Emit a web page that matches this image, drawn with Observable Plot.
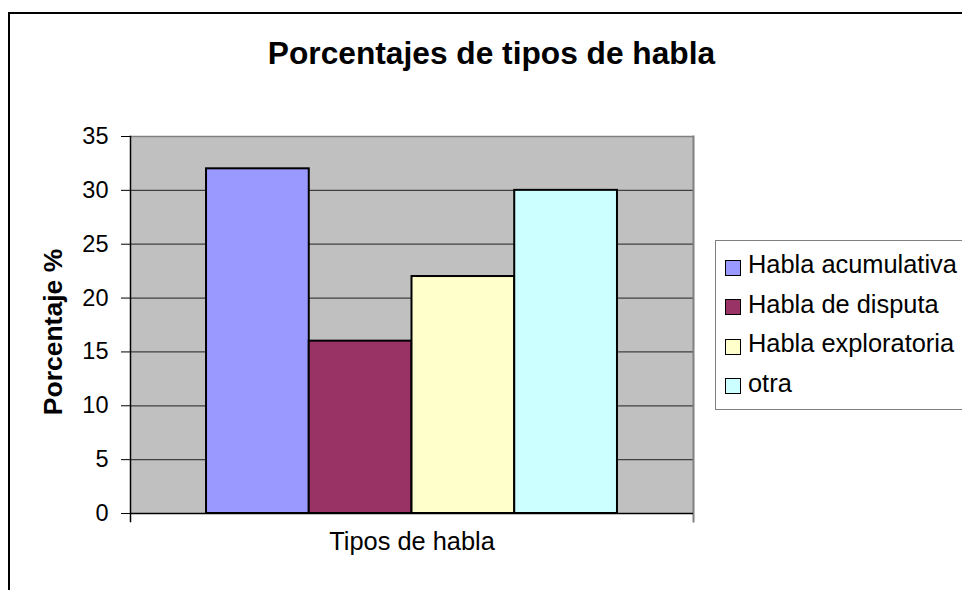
<!DOCTYPE html>
<html><head><meta charset="utf-8">
<script src="https://cdn.jsdelivr.net/npm/d3@7"></script>
<script src="https://cdn.jsdelivr.net/npm/@observablehq/plot@0.6"></script>
<style>
body{margin:0;background:#fff;}
#wrap{position:relative;width:962px;height:590px;overflow:hidden;font-family:"Liberation Sans",Arial,sans-serif;color:#000;}
#wrap svg{position:absolute;left:0;top:0;}
#border{position:absolute;left:8px;top:12px;width:1000px;height:1000px;border:2.5px solid #000;box-sizing:border-box;}
#title{position:absolute;left:491.5px;top:38px;transform:translateX(-50%);white-space:nowrap;font-size:31.7px;line-height:31.7px;font-weight:bold;}
#legend{position:absolute;left:715px;top:240px;width:300px;height:170px;border:1.5px solid #808080;box-sizing:border-box;background:#fff;}
.row{position:absolute;left:725px;height:40px;line-height:40px;font-size:25.4px;white-space:nowrap;}
.sw{position:absolute;left:0;top:15.5px;width:16px;height:16px;border:1.5px solid #000;box-sizing:border-box;}
.lab{position:absolute;left:23px;top:0;}
</style></head>
<body>
<div id="wrap">
  <div id="border"></div>
  <div id="legend"></div>
</div>
<script>
const title = "Porcentajes de tipos de habla";
const xTitle = "Tipos de habla";
const yTitle = "Porcentaje %";
const categories = ["Habla acumulativa", "Habla de disputa", "Habla exploratoria", "otra"];
const values = [32, 16, 22, 30];
const colors = ["#9999FF", "#993366", "#FFFFCC", "#CCFFFF"];
const yTicks = [0, 5, 10, 15, 20, 25, 30, 35];
const gridTicks = [5, 10, 15, 20, 25, 30];

const data = categories.map((c, i) => ({cat: c, val: values[i]}));

const chart = Plot.plot({
  width: 962,
  height: 590,
  marginLeft: 130,
  marginRight: 269,
  marginTop: 136,
  marginBottom: 77,
  style: {fontFamily: "'Liberation Sans', Arial, sans-serif", fontSize: "23.5px", background: "transparent", color: "#000"},
  x: {domain: categories, paddingInner: 0, paddingOuter: 0.74, round: false, axis: null},
  y: {domain: [0, 35], axis: null},
  color: {type: "ordinal", domain: categories, range: colors},
  marks: [
    Plot.frame({fill: "#C0C0C0"}),
    Plot.gridY(gridTicks, {stroke: "#404040", strokeOpacity: 1, strokeWidth: 1.2}),
    Plot.barY(data, {x: "cat", y: "val", fill: "cat", stroke: "#000", strokeWidth: 2}),
    Plot.ruleY([35], {stroke: "#808080", strokeWidth: 1.5}),
    Plot.frame({anchor: "right", stroke: "#808080", strokeWidth: 2, insetBottom: -8}),
    Plot.frame({anchor: "left", stroke: "#000", strokeWidth: 1.5, insetBottom: -8}),
    Plot.ruleY([0], {stroke: "#000", strokeWidth: 1.5}),
    Plot.axisY(yTicks, {label: null, tickSize: 9, tickPadding: 13, fontSize: 23.5, stroke: "#000", fill: "#000"}),
    Plot.text([yTitle], {text: d => d, frameAnchor: "left", rotate: -90, dx: -77, dy: 7, textAnchor: "middle", fontSize: 26.5, fontWeight: "bold", fill: "#000"}),
    Plot.text([xTitle], {text: d => d, frameAnchor: "bottom", dy: 36, textAnchor: "middle", fontSize: 25.4, fill: "#000"})
  ]
});

const wrap = document.getElementById("wrap");
wrap.insertBefore(chart, wrap.firstChild);

const t = document.createElement("div");
t.id = "title";
t.textContent = title;
wrap.appendChild(t);

categories.forEach((c, i) => {
  const row = document.createElement("div");
  row.className = "row";
  row.style.top = (244.3 + i * 39.5) + "px";
  const sw = document.createElement("span");
  sw.className = "sw";
  sw.style.background = colors[i];
  const lab = document.createElement("span");
  lab.className = "lab";
  lab.textContent = c;
  row.appendChild(sw);
  row.appendChild(lab);
  wrap.appendChild(row);
});
</script>
</body></html>
